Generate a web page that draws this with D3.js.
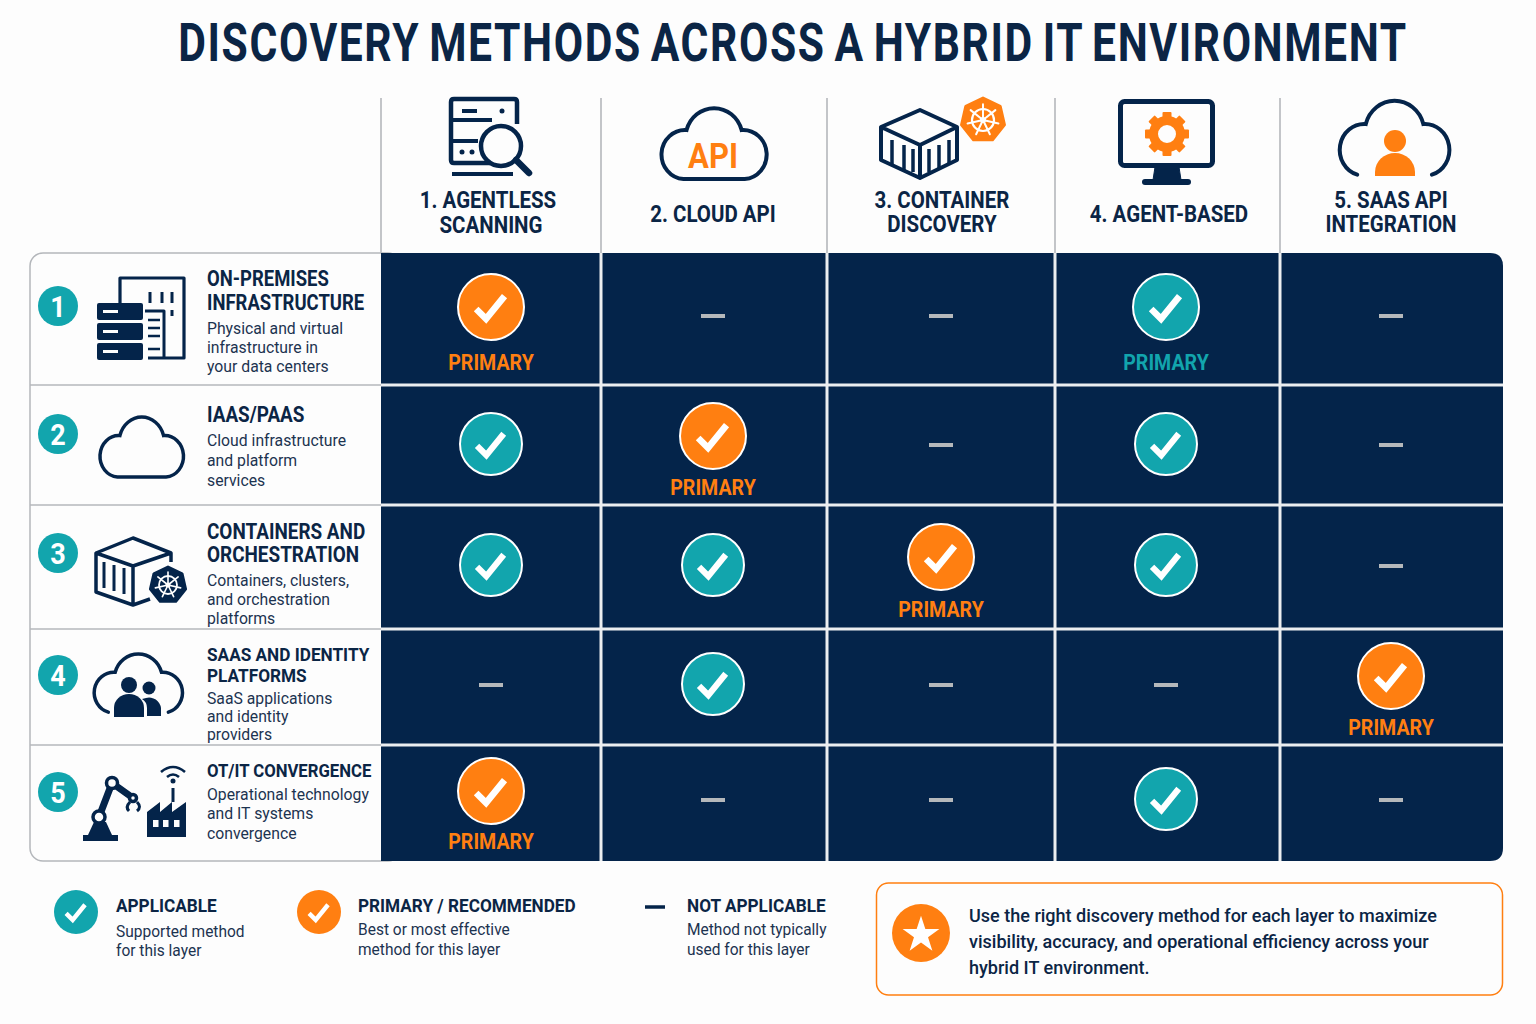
<!DOCTYPE html>
<html>
<head>
<meta charset="utf-8">
<title>Discovery methods across a hybrid IT environment</title>
<script src="https://cdn.jsdelivr.net/npm/d3@7"></script>
<style>
  html, body { margin: 0; background: #fdfdfd; }
  svg { display: block; }
  text { font-family: Roboto, "Noto Sans", sans-serif; }
</style>
</head>
<body>
<div id="chart"></div>
<script>
// data
const methods = ["agentless", "cloudApi", "container", "agent", "saasApi"];
const methodLabels = [
    ["1. AGENTLESS", "SCANNING"],
    ["2. CLOUD API"],
    ["3. CONTAINER", "DISCOVERY"],
    ["4. AGENT-BASED"],
    ["5. SAAS API", "INTEGRATION"]
];
const layers = ["onprem", "iaas", "containers", "saas", "ot"];
const layerTitles = [
    ["ON-PREMISES", "INFRASTRUCTURE"],
    ["IAAS/PAAS"],
    ["CONTAINERS AND", "ORCHESTRATION"],
    ["SAAS AND IDENTITY", "PLATFORMS"],
    ["OT/IT CONVERGENCE"]
];
const layerDescs = [
    ["Physical and virtual", "infrastructure in", "your data centers"],
    ["Cloud infrastructure", "and platform", "services"],
    ["Containers, clusters,", "and orchestration", "platforms"],
    ["SaaS applications", "and identity", "providers"],
    ["Operational technology", "and IT systems", "convergence"]
];
// P primary, T primary in teal, A applicable, N not applicable
const onpremStatus = ["P", "N", "N", "T", "N"];
const iaasStatus = ["A", "P", "N", "A", "N"];
const containersStatus = ["A", "A", "P", "A", "N"];
const saasStatus = ["N", "A", "N", "N", "P"];
const otStatus = ["P", "N", "N", "A", "N"];
const statusRows = [onpremStatus, iaasStatus, containersStatus, saasStatus, otStatus];
const primaryLabel = "PRIMARY";
const titleText = "DISCOVERY METHODS ACROSS A HYBRID IT ENVIRONMENT";
const legendTitles = ["APPLICABLE", "PRIMARY / RECOMMENDED", "NOT APPLICABLE"];
const legendDescs = [
    ["Supported method", "for this layer"],
    ["Best or most effective", "method for this layer"],
    ["Method not typically", "used for this layer"]
];
const calloutLines = [
    "Use the right discovery method for each layer to maximize",
    "visibility, accuracy, and operational efficiency across your",
    "hybrid IT environment."
];

// colours
const navy = "#04244a";
const ink = "#0b2545";
const teal = "#12a5ad";
const orange = "#ff7f11";
const rule = "#b4b7bb";

// layout
const colEdges = [381, 601, 827, 1055, 1280, 1503];
const rowEdges = [253, 385, 505, 629, 745, 861];
const colCenters = [491, 713, 941, 1166, 1391];
const rowCenters = [316, 445, 566, 685, 800];

const xScale = d3.scaleOrdinal(methods, colCenters);
const yScale = d3.scaleOrdinal(layers, rowCenters);

const svg = d3.select("#chart").append("svg")
    .attr("width", 1536)
    .attr("height", 1024);

// text helper, squeeze narrows the Roboto glyphs to the condensed look
function label(parent, str, px, py, o) {
    const t = parent.append("text")
        .attr("dy", "0.35em")
        .attr("text-anchor", o.anchor || "start")
        .attr("fill", o.fill || ink)
        .attr("font-size", o.size)
        .attr("font-weight", o.weight || 400)
        .style("letter-spacing", o.spacing ? o.spacing + "px" : null)
        .style("word-spacing", o.wordSpacing ? o.wordSpacing + "px" : null)
        .text(str);
    const w = t.node().getComputedTextLength();
    const s = o.width ? o.width / w : (o.squeeze || 1);
    t.attr("transform", `translate(${px},${py}) scale(${s},1)`);
    return t;
}

function checkBadge(parent, cx, cy, r, color, ring) {
    const g = parent.append("g").attr("transform", `translate(${cx},${cy})`);
    g.append("circle")
        .attr("r", r)
        .attr("fill", color)
        .attr("stroke", ring ? "#fff" : "none")
        .attr("stroke-width", 2);
    g.append("path")
        .attr("d", d3.line()([[-0.45 * r, 0.06 * r], [-0.15 * r, 0.36 * r], [0.41 * r, -0.33 * r]]))
        .attr("fill", "none")
        .attr("stroke", "#fff")
        .attr("stroke-width", r * 0.2);
}

// cloud outlines, 108 wide and 70 high before scaling
const cloudPath = "M24 70 H84 A23 23 0 1 0 81 24 A28 28 0 0 0 27 24 A23 23 0 1 0 24 70 Z";
const openCloudPath = "M19 69 A23 23 0 0 1 27 24 A28 28 0 0 1 81 24 A23 23 0 0 1 89 69";

function cloud(parent, px, py, sx, sy, path, sw) {
    return parent.append("path")
        .attr("transform", `translate(${px},${py}) scale(${sx},${sy})`)
        .attr("d", path)
        .attr("fill", "none")
        .attr("stroke", navy)
        .attr("stroke-width", sw)
        .attr("vector-effect", "non-scaling-stroke")
        .attr("stroke-linecap", "round");
}

function helmBadge(parent, cx, cy, r, bg, fg) {
    const g = parent.append("g").attr("transform", `translate(${cx},${cy})`);
    const corners = d3.range(7).map(i => {
        const a = -Math.PI / 2 + i * 2 * Math.PI / 7;
        return [r * Math.cos(a), r * Math.sin(a)];
    });
    g.append("path").attr("d", d3.line().curve(d3.curveLinearClosed)(corners))
        .attr("fill", bg).attr("stroke", bg).attr("stroke-width", 3).attr("stroke-linejoin", "round");
    g.append("circle").attr("r", r * 0.5).attr("fill", "none").attr("stroke", fg).attr("stroke-width", r * 0.1);
    g.append("circle").attr("r", r * 0.14).attr("fill", fg);
    d3.range(7).forEach(i => {
        const a = -Math.PI / 2 + i * 2 * Math.PI / 7;
        g.append("line")
            .attr("x2", r * 0.72 * Math.cos(a))
            .attr("y2", r * 0.72 * Math.sin(a))
            .attr("stroke", fg)
            .attr("stroke-width", r * 0.09)
            .attr("stroke-linecap", "round");
    });
}

function strokes(parent, d, sw, color) {
    return parent.append("path")
        .attr("d", d)
        .attr("fill", "none")
        .attr("stroke", color || navy)
        .attr("stroke-width", sw)
        .attr("stroke-linejoin", "round");
}

// title
label(svg, titleText, 793, 42, { size: 54, weight: 700, anchor: "middle", width: 1230, spacing: 2, wordSpacing: -4 });

// left panel and dark grid
const grid = svg.append("g");
const panelLeft = 30, gridLeft = colEdges[0], gridRight = colEdges[5], gridTop = rowEdges[0], gridBottom = rowEdges[5];
grid.append("rect")
    .attr("x", panelLeft).attr("y", gridTop)
    .attr("width", gridLeft - panelLeft + 20).attr("height", gridBottom - gridTop)
    .attr("rx", 13)
    .attr("fill", "#fdfdfd")
    .attr("stroke", rule)
    .attr("stroke-width", 1.5);
grid.append("path")
    .attr("d", `M${gridLeft} ${gridTop} H${gridRight - 13} Q${gridRight} ${gridTop} ${gridRight} ${gridTop + 13} V${gridBottom - 13} Q${gridRight} ${gridBottom} ${gridRight - 13} ${gridBottom} H${gridLeft} Z`)
    .attr("fill", navy);

// header rules and white separators
grid.selectAll(".head-rule").data(colEdges.slice(0, 5)).enter().append("line")
    .attr("class", "head-rule")
    .attr("x1", d => d).attr("x2", d => d)
    .attr("y1", 98).attr("y2", gridTop)
    .attr("stroke", rule).attr("stroke-width", 1.6);
grid.selectAll(".col-sep").data(colEdges.slice(1, 5)).enter().append("line")
    .attr("class", "col-sep")
    .attr("x1", d => d).attr("x2", d => d)
    .attr("y1", gridTop).attr("y2", gridBottom)
    .attr("stroke", "#eceef0").attr("stroke-width", 3);
grid.selectAll(".row-sep").data(rowEdges.slice(1, 5)).enter().append("line")
    .attr("class", "row-sep")
    .attr("x1", gridLeft).attr("x2", gridRight)
    .attr("y1", d => d).attr("y2", d => d)
    .attr("stroke", "#eceef0").attr("stroke-width", 3);
grid.selectAll(".left-sep").data(rowEdges.slice(1, 5)).enter().append("line")
    .attr("class", "left-sep")
    .attr("x1", panelLeft).attr("x2", gridLeft)
    .attr("y1", d => d).attr("y2", d => d)
    .attr("stroke", rule).attr("stroke-width", 1.5);

// column labels
const headLineX = [[488, 491], [713], [942, 942], [1169], [1391, 1391]];
const headLineY = [[200, 225], [214], [200, 224], [214], [200, 224]];
methods.forEach((m, i) => {
    methodLabels[i].forEach((line, j) => {
        label(svg, line, headLineX[i][j], headLineY[i][j], { size: 23, weight: 700, anchor: "middle", squeeze: 0.89 });
    });
});

// column icons
const heads = svg.append("g");
// 1 server and magnifier
strokes(heads, "M490 163 H454 Q451 163 451 160 V102 Q451 99 454 99 H514 Q517 99 517 102 V124", 4.5);
strokes(heads, "M451 120 H492 M451 141 H478 M462 111 H477 M452 174 H513", 4);
heads.append("circle").attr("cx", 502).attr("cy", 111).attr("r", 2.5).attr("fill", navy);
heads.append("circle").attr("cx", 462).attr("cy", 152).attr("r", 2.5).attr("fill", navy);
heads.append("circle").attr("cx", 472).attr("cy", 152).attr("r", 2.5).attr("fill", navy);
heads.append("circle").attr("cx", 501).attr("cy", 146).attr("r", 20)
    .attr("fill", "#fdfdfd").attr("stroke", navy).attr("stroke-width", 4.5);
strokes(heads, "M516 160 L529 173", 6.5).attr("stroke-linecap", "round");
// 2 cloud api
cloud(heads, 659, 104.5, 1.02, 1.066, cloudPath, 4);
label(heads, "API", 713, 155, { size: 36, weight: 700, anchor: "middle", fill: orange, width: 50 });
// 3 container
strokes(heads, "M881 127 L920 110 L957 127 V160 L920 178 L881 160 Z M881 127 L920 145 L957 127 M920 145 V178", 4);
strokes(heads, "M892 140 V164 M904 145 V170 M913 149 V172 M929 149 V172 M939 145 V168 M949 140 V163", 3.5);
helmBadge(heads, 983, 120, 22, orange, "#fff");
// 4 monitor and gear
heads.append("rect").attr("x", 1120.5).attr("y", 101.5)
    .attr("width", 92).attr("height", 64).attr("rx", 4)
    .attr("fill", "none").attr("stroke", navy).attr("stroke-width", 5);
strokes(heads, "M1155 167 H1179 L1181 180 H1153 Z", 1).attr("fill", navy);
heads.append("rect").attr("x", 1142).attr("y", 179).attr("width", 49).attr("height", 6).attr("rx", 3).attr("fill", navy);
d3.range(4).forEach(i => {
    heads.append("rect")
        .attr("x", 1167 - 4.5).attr("y", 134 - 22)
        .attr("width", 9).attr("height", 44)
        .attr("rx", 1)
        .attr("transform", `rotate(${i * 45} 1167 134)`)
        .attr("fill", orange);
});
heads.append("circle").attr("cx", 1167).attr("cy", 134).attr("r", 13.5)
    .attr("fill", "#fdfdfd").attr("stroke", orange).attr("stroke-width", 9);
// 5 cloud and person
cloud(heads, 1337, 97, 1.066, 1.126, openCloudPath, 4);
heads.append("circle").attr("cx", 1395).attr("cy", 141).attr("r", 11).attr("fill", orange);
heads.append("path").attr("d", "M1375 176 V172 A20 19 0 0 1 1415 172 V176 Z").attr("fill", orange);

// row labels
const titleY = [[278, 302], [414], [531, 554], [654.5, 675.5], [770]];
const descY = [[328, 347, 366], [440, 460, 480], [580, 599, 618], [698, 716, 734], [794, 813, 833]];
const titleSize = [22, 22, 22, 19, 19];
const titleSqueeze = [0.84, 0.86, 0.86, 0.906, 0.88];
const badgeY = [306, 434, 553, 675, 792];
layers.forEach((l, i) => {
    svg.append("circle").attr("cx", 58).attr("cy", badgeY[i]).attr("r", 20).attr("fill", teal);
    label(svg, String(i + 1), 58, badgeY[i], { size: 30, weight: 700, anchor: "middle", fill: "#fff", squeeze: 0.9 });
    layerTitles[i].forEach((line, j) => {
        label(svg, line, 207, titleY[i][j], { size: titleSize[i], weight: 700, squeeze: titleSqueeze[i] });
    });
    layerDescs[i].forEach((line, j) => {
        label(svg, line, 207, descY[i][j], { size: 16, fill: "#1c3350", squeeze: 0.985 });
    });
});

// row icons
const icons = svg.append("g");
// 1 building and servers
strokes(icons, "M120 303 V278 H184 V358 H148", 3.2);
strokes(icons, "M150 292 V303 M162 292 V303 M172 292 V303 M172 310 V316 M145 311 H164 V358", 3);
strokes(icons, "M148 320 H160 M148 328 H160 M148 336 H160 M148 349 H160", 2.5);
[303, 323, 343].forEach(ty => {
    icons.append("rect").attr("x", 97).attr("y", ty).attr("width", 46).attr("height", 17).attr("rx", 2).attr("fill", navy);
    icons.append("rect").attr("x", 103).attr("y", ty + 7).attr("width", 15).attr("height", 3).attr("fill", "#fdfdfd");
});
// 2 cloud
cloud(icons, 98, 414, 0.81, 0.9, cloudPath, 3.5);
// 3 container and wheel
strokes(icons, "M171 562 V553 L133 538 L96 553 V592 L133 605 L150 599 M96 553 L133 566 L171 553 M133 566 V605", 3.5);
strokes(icons, "M104 562 V588 M114 565 V591 M124 568 V594", 3);
helmBadge(icons, 168, 585, 18, navy, "#fff");
// 4 cloud and people
cloud(icons, 92, 651, 0.858, 0.886, openCloudPath, 3.5);
icons.append("circle").attr("cx", 129).attr("cy", 685).attr("r", 8).attr("fill", navy);
icons.append("path").attr("d", "M114 717 V708 A15 14 0 0 1 144 708 V717 Z").attr("fill", navy);
icons.append("circle").attr("cx", 149).attr("cy", 688).attr("r", 6.5).attr("fill", navy);
icons.append("path").attr("d", "M146 698 A12 12 0 0 1 161 708 V716 H147 V708 Q147 702 142 699 Z").attr("fill", navy);
// 5 robot arm and factory
icons.append("rect").attr("x", 83).attr("y", 835).attr("width", 35).attr("height", 6).attr("fill", navy);
icons.append("path").attr("d", "M88 835 L94 822 H106 L112 835 Z").attr("fill", navy);
strokes(icons, "M99 817 L112 783 L133 798", 7);
[[99, 817, 6], [112, 783, 5.5], [133, 798, 3.5]].forEach(c => {
    icons.append("circle").attr("cx", c[0]).attr("cy", c[1]).attr("r", c[2])
        .attr("fill", "#fdfdfd").attr("stroke", navy).attr("stroke-width", 3.5);
});
strokes(icons, "M130 802 Q125 807 129 811 M137 802 Q142 807 137 811", 3);
icons.append("path").attr("d", "M147 837 V812 L160 802 V812 L172 802 V812 L186 802 V837 Z").attr("fill", navy);
[153, 163, 174].forEach(wx => {
    icons.append("rect").attr("x", wx).attr("y", 820).attr("width", 5.5).attr("height", 7).attr("fill", "#fdfdfd");
});
strokes(icons, "M173 788 V802", 3);
icons.append("circle").attr("cx", 173).attr("cy", 781).attr("r", 2.5).attr("fill", navy);
strokes(icons, "M167 777 Q173 772 179 777 M161 772 Q173 762 185 772", 2.6);

// cells
const primaryLabelDy = [46, 42, 43, 42, 41];
const cells = [];
statusRows.forEach((row, i) => row.forEach((s, j) => cells.push({ layer: layers[i], method: methods[j], status: s, row: i })));
const cellG = svg.append("g");
cells.forEach(d => {
    const cx = xScale(d.method), cy = yScale(d.layer);
    if (d.status === "N") {
        cellG.append("line")
            .attr("x1", cx - 12).attr("x2", cx + 12)
            .attr("y1", cy).attr("y2", cy)
            .attr("stroke", "#b5b8bb").attr("stroke-width", 4);
    } else if (d.status === "A") {
        checkBadge(cellG, cx, cy - 1, 31, teal, true);
    } else {
        const color = d.status === "P" ? orange : teal;
        checkBadge(cellG, cx, cy - 9, 33, color, true);
        label(cellG, primaryLabel, cx, cy + primaryLabelDy[d.row], { size: 22, weight: 700, anchor: "middle", fill: color, squeeze: 0.89 });
    }
});

// legend
checkBadge(svg, 76, 912, 22, teal, false);
checkBadge(svg, 319, 912, 22, orange, false);
svg.append("line").attr("x1", 645).attr("x2", 665).attr("y1", 907).attr("y2", 907)
    .attr("stroke", navy).attr("stroke-width", 3.5);
const legendX = [116, 358, 687];
const legendDescY = [[931, 950], [929, 949], [929, 949]];
legendTitles.forEach((t, i) => {
    label(svg, t, legendX[i], 905, { size: 19, weight: 700, squeeze: 0.905 });
    legendDescs[i].forEach((line, j) => {
        label(svg, line, legendX[i], legendDescY[i][j], { size: 16, fill: "#1c3350", squeeze: 0.97 });
    });
});

// callout
svg.append("rect").attr("x", 876.5).attr("y", 883)
    .attr("width", 626).attr("height", 112).attr("rx", 12)
    .attr("fill", "#fdfdfd").attr("stroke", orange).attr("stroke-width", 1.5);
svg.append("circle").attr("cx", 921).attr("cy", 933).attr("r", 29).attr("fill", orange);
svg.append("path")
    .attr("transform", "translate(921,935)")
    .attr("d", d3.symbol(d3.symbolStar, 420)())
    .attr("fill", "#fff");
const calloutY = [915, 941, 967];
calloutLines.forEach((line, i) => {
    label(svg, line, 969, calloutY[i], { size: 19, weight: 500, squeeze: 0.95 });
});
</script>
</body>
</html>
